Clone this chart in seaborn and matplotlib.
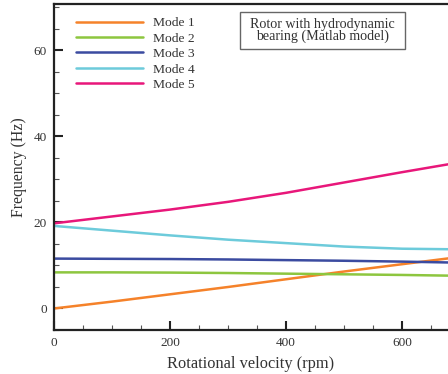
import matplotlib
matplotlib.use("Agg")
import matplotlib.pyplot as plt
from matplotlib.patches import Rectangle
from matplotlib.ticker import MultipleLocator
import numpy as np
import pandas as pd
import seaborn as sns

# Campbell diagram data: natural frequencies vs. shaft speed
rpm = [0, 100, 200, 300, 400, 500, 600, 700]
mode1 = [0.0, 1.6, 3.3, 5.0, 6.8, 8.6, 10.3, 12.0]
mode2 = [8.4, 8.4, 8.35, 8.25, 8.1, 7.95, 7.8, 7.6]
mode3 = [11.6, 11.55, 11.5, 11.4, 11.25, 11.1, 10.9, 10.65]
mode4 = [19.2, 18.1, 17.0, 16.0, 15.2, 14.4, 13.9, 13.75]
mode5 = [19.8, 21.4, 23.0, 24.8, 26.9, 29.3, 31.7, 34.0]

mode_names = ["Mode 1", "Mode 2", "Mode 3", "Mode 4", "Mode 5"]
mode_colors = ["#F5822A", "#8DC63F", "#3B4BA0", "#6DCBDB", "#E8177A"]

x_ticks = [0, 200, 400, 600]
y_ticks = [0, 20, 40, 60]

frames = []
for name, vals in zip(mode_names, [mode1, mode2, mode3, mode4, mode5]):
    frames.append(pd.DataFrame({"rpm": rpm, "freq": vals, "mode": name}))
df = pd.concat(frames, ignore_index=True)

sns.set_style("ticks")
plt.rcParams["font.family"] = ["Liberation Serif", "DejaVu Serif"]
text_color = "#333333"

fig = plt.figure(figsize=(4.48, 3.74), dpi=100)
ax = fig.add_axes([54 / 448, 1 - 330 / 374, 1 - 54 / 448, (330 - 4) / 374])

sns.lineplot(data=df, x="rpm", y="freq", hue="mode", hue_order=mode_names,
             palette=mode_colors, linewidth=1.8, ax=ax, legend=True)

ax.set_xlim(0, 679)
ax.set_ylim(-5, 70.8)
ax.set_xticks(x_ticks)
ax.set_yticks(y_ticks)
ax.xaxis.set_minor_locator(MultipleLocator(50))
ax.yaxis.set_minor_locator(MultipleLocator(5))
ax.tick_params(which="major", direction="in", length=6.5, width=1.5,
               color="#222222", labelsize=9.5, labelcolor=text_color, pad=5)
ax.tick_params(which="minor", direction="in", length=3.5, width=0.8,
               color="#555555")
ax.tick_params(axis="x", which="both", top=False)
ax.tick_params(axis="y", which="both", right=False)

for side in ["left", "bottom", "top"]:
    ax.spines[side].set_linewidth(1.6)
    ax.spines[side].set_color("#222222")
ax.spines["right"].set_visible(False)

ax.set_xlabel("Rotational velocity (rpm)", fontsize=11.8, color=text_color, labelpad=5)
ax.set_ylabel("Frequency (Hz)", fontsize=11.3, color=text_color, labelpad=5)

handles, labels = ax.get_legend_handles_labels()
ax.legend(handles, labels, loc="upper left", bbox_to_anchor=(0.035, 0.985),
          frameon=False, fontsize=9.7, handlelength=5.0, handletextpad=0.7,
          labelspacing=0.22, borderaxespad=0.2, labelcolor=text_color)

# annotation box with the model description
ax.add_patch(Rectangle((0.472, 0.862), 0.419, 0.113, transform=ax.transAxes,
                       fill=False, edgecolor="#666666", linewidth=1.0))
ax.text(0.681, 0.919, "Rotor with hydrodynamic\nbearing (Matlab model)",
        transform=ax.transAxes, ha="center", va="center", fontsize=10.1,
        color=text_color, linespacing=0.88)

fig.savefig("out.png", dpi=100)
